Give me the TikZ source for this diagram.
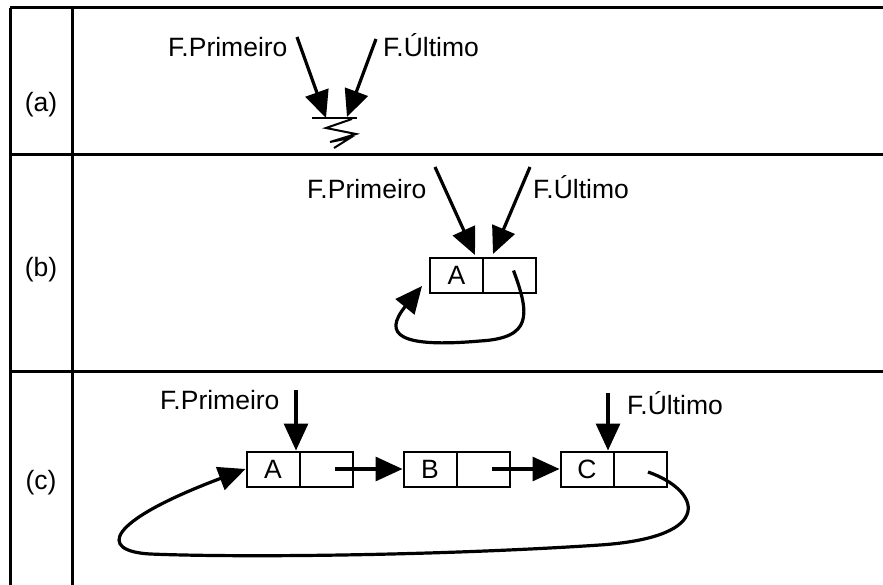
\documentclass[tikz,border=0pt]{standalone}
\usepackage{fontspec}
\setmainfont{Liberation Sans}
\usetikzlibrary{arrows.meta}
\begin{document}
\begin{tikzpicture}[x=1pt,y=-1pt,
  txt/.style={inner sep=0pt, font=\fontsize{26.5}{30}\selectfont},
  lbl/.style={txt, anchor=base west},
  cell/.style={draw, line width=2pt, minimum width=53pt, minimum height=35pt, inner sep=0pt, font=\fontsize{26.5}{30}\selectfont},
  ptr/.style={line width=3.2pt, -{Triangle[length=27pt,width=24pt]}},
  gridline/.style={line width=3pt}]
\useasboundingbox (0,0) rectangle (883,585);
% table
\draw[gridline] (10,8) -- (883,8);
\draw[gridline] (10,155) -- (883,155);
\draw[gridline] (10,371) -- (883,371);
\draw[gridline] (10,8) -- (10,585);
\draw[gridline] (72,8) -- (72,585);
\node[txt] (ra) at (41,105) {(a)};
\node[txt] (rb) at (41,270) {(b)};
\node[txt] (rc) at (41,483) {(c)};
% (a)
\node[lbl] (pa) at (168,57) {F.Primeiro};
\node[lbl] (ua) at (383,57) {F.Último};
\coordinate (pas) at (297,37);
\coordinate (uas) at (376,39);
\coordinate (gl) at (312,118);
\coordinate (gr) at (357,118);
\coordinate (gp) at (326,118);
\coordinate (gu) at (347,117);
\draw[ptr] (pas) -- (gp);
\draw[ptr] (uas) -- (gu);
\draw[line width=2.5pt] (gl) -- (gr);
\draw[line width=2pt, line join=miter] (352,119) -- (326,128) -- (356,134) -- (330,142) -- (350,138) -- (334,148);
% (b)
\node[lbl] (pb) at (307,199) {F.Primeiro};
\node[lbl] (ub) at (533,199) {F.Último};
\node[cell] (A1) at (456.5,275.5) {A};
\node[cell] (A2) at (509.5,275.5) {};
\coordinate (pbs) at (435,167);
\coordinate (ubs) at (530,167);
\draw[ptr] (pbs) -- (475,255);
\draw[ptr] (ubs) -- (493,254);
\draw[ptr] ([xshift=4pt,yshift=5pt]A2.center) .. controls (530,315) and (532,338) .. (480,341)
  .. controls (400,348) and (382,335) .. ([xshift=-7pt,yshift=8pt]A1.south west);
% (c)
\node[lbl] (pc) at (160,409) {F.Primeiro};
\node[lbl] (uc) at (627,414) {F.Último};
\node[cell] (Ca1) at (273,469) {A};
\node[cell] (Ca2) at (326,469) {};
\node[cell] (Cb1) at (430,469) {B};
\node[cell] (Cb2) at (483,469) {};
\node[cell] (Cc1) at (587,469) {C};
\node[cell] (Cc2) at (640,469) {};
\coordinate (pcs) at (296,390);
\coordinate (ucs) at (608,393);
\draw[ptr] (pcs) -- (pcs |- Ca1.north);
\draw[ptr] (ucs) -- (ucs |- Cc1.north);
\draw[ptr] ([xshift=9pt]Ca2.center) -- (Cb1.west);
\draw[ptr] ([xshift=9pt]Cb2.center) -- (Cc1.west);
\draw[ptr] ([xshift=8pt,yshift=-3pt]Cc2.center) .. controls (700,490) and (718,537) .. (600,545)
  .. controls (450,555) and (250,558) .. (150,554)
  .. controls (98,551) and (105,522) .. (Ca1.west);
\end{tikzpicture}
\end{document}
